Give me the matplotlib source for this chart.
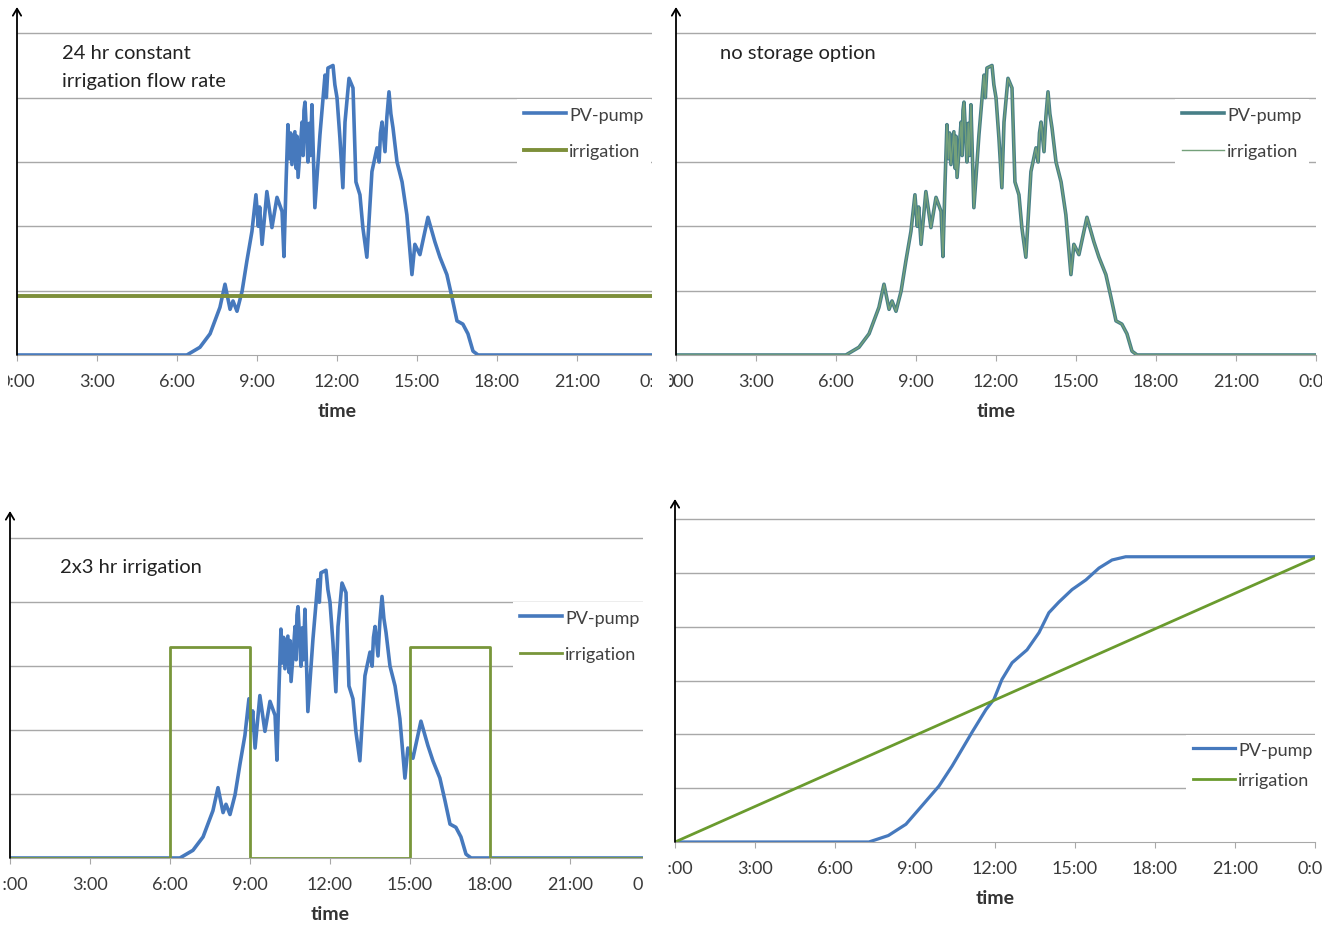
import numpy as np
import matplotlib
matplotlib.use("Agg")
import matplotlib.pyplot as plt
from matplotlib.patches import Rectangle
from matplotlib.ticker import FuncFormatter, MultipleLocator

plt.rcParams['font.family'] = ['Lato', 'DejaVu Sans']

# PV-pump flow over the day (hour of day, relative units)
pv_hours = [0, 6.37, 6.86, 7.24, 7.61, 7.80, 7.99, 8.10, 8.25, 8.44, 8.62, 8.81, 8.96,
            9.05, 9.10, 9.19, 9.37, 9.56, 9.75, 9.94, 10.01, 10.09, 10.16, 10.22, 10.26,
            10.31, 10.42, 10.47, 10.50, 10.54, 10.69, 10.73, 10.76, 10.80, 10.91,
            10.96, 11.00, 11.06, 11.17, 11.36, 11.55, 11.60, 11.66, 11.85, 11.92, 12.00,
            12.11, 12.22, 12.30, 12.45, 12.60, 12.71, 12.86, 12.97, 13.12, 13.31,
            13.50, 13.58, 13.63, 13.69, 13.80, 13.87, 13.95, 14.02, 14.10, 14.25,
            14.44, 14.62, 14.81, 14.92, 15.11, 15.41, 15.67, 15.86, 16.12, 16.31,
            16.50, 16.72, 16.91, 17.10, 17.29, 24]
pv_flow = [0, 0, 0.12, 0.33, 0.74, 1.10, 0.71, 0.84, 0.68, 0.99, 1.46, 1.92, 2.49,
           2.00, 2.30, 1.72, 2.54, 1.98, 2.45, 2.23, 1.53, 2.69, 3.58, 3.05, 3.45,
           2.96, 3.47, 2.90, 3.40, 2.76, 3.62, 3.10, 3.80, 3.93, 3.00,
           3.60, 3.10, 3.89, 2.29, 3.42, 4.35, 4.00, 4.46, 4.50, 4.20, 4.00,
           3.37, 2.60, 3.62, 4.30, 4.15, 2.69, 2.49, 1.98, 1.52, 2.85,
           3.22, 3.00, 3.45, 3.62, 3.16, 3.70, 4.09, 3.75, 3.53, 3.00,
           2.69, 2.18, 1.25, 1.72, 1.56, 2.14, 1.76, 1.52, 1.25, 0.90,
           0.53, 0.48, 0.33, 0.06, 0, 0]

# 24 hr constant irrigation
const_hours = [0, 24]
const_flow = [0.91, 0.91]

# 2x3 hr irrigation schedule
sched_hours = [0, 6, 6, 9, 9, 15, 15, 18, 18, 24]
sched_flow = [0, 0, 3.3, 3.3, 0, 0, 3.3, 3.3, 0, 0]

# cumulative volumes
cum_hours = [0, 7.27, 8.0, 8.66, 9.15, 9.9, 10.39, 11.14, 11.66, 11.96, 12.26, 12.64,
             13.2, 13.65, 14.02, 14.4, 14.89, 15.41, 15.9, 16.39, 16.9, 24]
cum_pv = [0, 0, 0.12, 0.33, 0.61, 1.04, 1.41, 2.04, 2.46, 2.65, 3.02, 3.33,
          3.57, 3.89, 4.26, 4.46, 4.69, 4.87, 5.09, 5.24, 5.3, 5.3]
cum_irr_hours = [0, 24]
cum_irr = [0, 5.28]

W, H = 1322, 928
fig = plt.figure(figsize=(W / 100, H / 100), dpi=100)

BLUE = '#4679bd'
GRID = '#a8a8a8'


def panel(x0, x1, base, top, arrow, ngrid):
    ax = fig.add_axes([x0 / W, 1 - base / H, (x1 - x0) / W, (base - top) / H])
    ax.set_xlim(0, 24)
    ax.set_ylim(0, ngrid + 0.02)
    ax.xaxis.set_major_locator(MultipleLocator(3))
    ax.xaxis.set_major_formatter(FuncFormatter(lambda v, p: '%d:00' % (int(round(v)) % 24)))
    ax.set_yticks(range(1, ngrid + 1))
    ax.yaxis.grid(True, color=GRID, lw=1)
    ax.tick_params(axis='y', left=False, labelleft=False)
    ax.tick_params(axis='x', direction='out', length=4, color=GRID,
                   labelsize=13, labelcolor='#3a3a3a', pad=9)
    for s in ['top', 'right', 'left']:
        ax.spines[s].set_visible(False)
    ax.spines['bottom'].set_color(GRID)
    ax.set_xlabel('time', fontsize=14, fontweight='bold', color='#333333', labelpad=9)
    ax.annotate('', xy=(0, 1 + (top - arrow) / (base - top)), xytext=(0, 0),
                xycoords='axes fraction',
                arrowprops=dict(arrowstyle='->,head_length=0.5,head_width=0.3',
                                color='black', lw=1.3, shrinkA=0, shrinkB=0),
                annotation_clip=False)
    return ax


def legend(ax, x, y, spacing=1.14):
    leg = ax.legend(loc='center left', bbox_to_anchor=(x / W, 1 - y / H),
                    bbox_transform=fig.transFigure, frameon=True, fancybox=False,
                    edgecolor='none', facecolor='white', framealpha=1, fontsize=13,
                    handlelength=2.3, handletextpad=0.2, labelspacing=spacing,
                    borderpad=0.4, borderaxespad=0)
    for t in leg.get_texts():
        t.set_color('#404040')


# top left
ax1 = panel(17, 657, 356, 33, 8, 5)
ax1.plot(pv_hours, pv_flow, color=BLUE, lw=2.6, label='PV-pump')
ax1.plot(const_hours, const_flow, color='#7d8f3a', lw=2.8, label='irrigation')
legend(ax1, 517, 134)
fig.text(62 / W, 1 - 45 / H, '24 hr constant\nirrigation flow rate', fontsize=14.5,
         color='#222222', va='top', ha='left', linespacing=1.8)

# top right
ax2 = panel(676, 1316, 356, 33, 8, 5)
ax2.plot(pv_hours, pv_flow, color='#477f87', lw=2.6, label='PV-pump')
ax2.plot(pv_hours, pv_flow, color='#74a07a', lw=1.0, label='irrigation')
legend(ax2, 1175, 134)
fig.text(720 / W, 1 - 54 / H, 'no storage option', fontsize=14.5,
         color='#222222', va='center', ha='left')

# bottom left
ax3 = panel(10, 650, 859, 538, 512, 5)
ax3.plot(pv_hours, pv_flow, color=BLUE, lw=2.6, label='PV-pump')
ax3.plot(sched_hours, sched_flow, color='#78963a', lw=2.0, label='irrigation')
legend(ax3, 513, 637)
fig.text(60 / W, 1 - 567 / H, '2x3 hr irrigation', fontsize=14.5,
         color='#222222', va='center', ha='left')

# bottom right
ax4 = panel(675, 1315, 843, 519, 500, 6)
ax4.plot(cum_hours, cum_pv, color=BLUE, lw=2.3, label='PV-pump')
ax4.plot(cum_irr_hours, cum_irr, color='#6a9b2e', lw=2.0, label='irrigation')
legend(ax4, 1186, 766, spacing=0.8)

# crop edges between the pasted charts
for (x, y, w, h) in [(652, 0, 17, 465), (643, 465, 25, 463), (0, 0, 8, 465), (0, 465, 3, 463)]:
    fig.add_artist(Rectangle((x / W, 1 - (y + h) / H), w / W, h / H,
                             transform=fig.transFigure, facecolor='white',
                             edgecolor='none', zorder=20))

fig.savefig('out.png', dpi=100)
